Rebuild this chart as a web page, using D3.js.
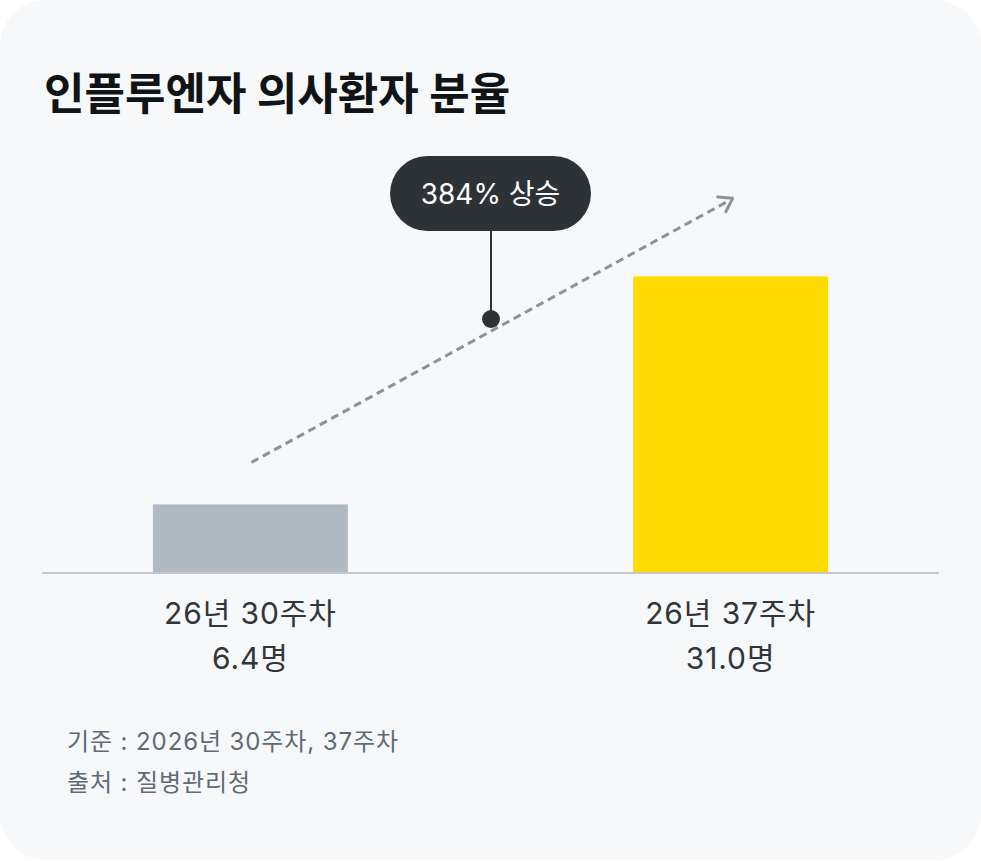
<!DOCTYPE html>
<html>
<head>
<meta charset="utf-8">
<script src="https://cdn.jsdelivr.net/npm/d3@7"></script>
<style>
  html, body { margin: 0; padding: 0; background: #ffffff; }
  svg { display: block; }
  text { font-family: Inter, "Noto Sans CJK KR", "Noto Sans", sans-serif; }
</style>
</head>
<body>
<svg id="chart" width="981" height="861"></svg>
<script>
// data
var titleText = "인플루엔자 의사환자 분율";
var categories = ["26년 30주차", "26년 37주차"];
var values = [6.4, 31.0];
var valueLabels = ["6.4명", "31.0명"];
var barColors = ["#b1bac2", "#ffdb00"];
var calloutText = "384% 상승";
var footNotes = ["기준 : 2026년 30주차, 37주차", "출처 : 질병관리청"];

var W = 981, H = 861;
var baseY = 573;

var svg = d3.select("#chart");

// card background
svg.append("rect")
    .attr("x", 0).attr("y", 0)
    .attr("width", W).attr("height", H - 1)
    .attr("rx", 46).attr("ry", 46)
    .attr("fill", "#f7f8fa");

// title
svg.append("text")
    .attr("x", 44)
    .attr("y", 110)
    .attr("font-size", "44px")
    .attr("font-weight", 700)
    .attr("fill", "#111417")
    .text(titleText);

// scales
var x = d3.scaleBand()
    .domain(categories)
    .range([42, 939])
    .paddingInner(0.594)
    .paddingOuter(0.231);

var y = d3.scaleLinear()
    .domain([-1, 35])
    .range([baseY, baseY - 36 * 9.27]);

// bars
svg.selectAll("rect.bar")
    .data(values)
    .enter()
    .append("rect")
    .attr("class", "bar")
    .attr("x", function(d, i){ return x(categories[i]); })
    .attr("y", function(d){ return y(d); })
    .attr("width", x.bandwidth())
    .attr("height", function(d){ return baseY - y(d); })
    .attr("fill", function(d, i){ return barColors[i]; });

// baseline
svg.append("line")
    .attr("x1", 42).attr("x2", 939)
    .attr("y1", baseY).attr("y2", baseY)
    .attr("stroke", "#c5cad0")
    .attr("stroke-width", 2);

// category labels
var labels = svg.selectAll("g.lbl")
    .data(categories)
    .enter()
    .append("g")
    .attr("class", "lbl");

labels.append("text")
    .attr("x", function(d){ return x(d) + x.bandwidth() / 2; })
    .attr("y", 624)
    .attr("text-anchor", "middle")
    .attr("font-size", "30px")
    .attr("letter-spacing", "0.9px")
    .attr("fill", "#31363b")
    .text(function(d){ return d; });

labels.append("text")
    .attr("x", function(d){ return x(d) + x.bandwidth() / 2; })
    .attr("y", 669)
    .attr("text-anchor", "middle")
    .attr("font-size", "30px")
    .attr("letter-spacing", "0.9px")
    .attr("fill", "#31363b")
    .text(function(d, i){ return valueLabels[i]; });

// dashed trend arrow
var cx0 = x(categories[0]) + x.bandwidth() / 2;
var cx1 = x(categories[1]) + x.bandwidth() / 2;
var p0 = [cx0 + 1, y(values[0]) - 42];
var p1 = [cx1 + 2, y(values[1]) - 78];

svg.append("line")
    .attr("x1", p0[0]).attr("y1", p0[1])
    .attr("x2", p1[0] - 3).attr("y2", p1[1] + 2)
    .attr("stroke", "#8b939b")
    .attr("stroke-width", 3)
    .attr("stroke-dasharray", "8,5");

var ang = Math.atan2(p1[1] - p0[1], p1[0] - p0[0]);
var headLen = 15;
var head = [
    [p1[0] - headLen * Math.cos(ang - 0.6), p1[1] - headLen * Math.sin(ang - 0.6)],
    p1,
    [p1[0] - headLen * Math.cos(ang + 0.6), p1[1] - headLen * Math.sin(ang + 0.6)]
];
svg.append("path")
    .attr("d", d3.line()(head))
    .attr("fill", "none")
    .attr("stroke", "#8b939b")
    .attr("stroke-width", 3)
    .attr("stroke-linecap", "round")
    .attr("stroke-linejoin", "round");

// callout
var pill = { cx: 490.5, cy: 193.5, w: 201, h: 75 };
var dot = { x: 491, y: 319 };

svg.append("line")
    .attr("x1", dot.x).attr("x2", dot.x)
    .attr("y1", pill.cy).attr("y2", dot.y)
    .attr("stroke", "#2d3236")
    .attr("stroke-width", 2);

svg.append("circle")
    .attr("cx", dot.x).attr("cy", dot.y)
    .attr("r", 9)
    .attr("fill", "#2d3236");

svg.append("rect")
    .attr("x", pill.cx - pill.w / 2)
    .attr("y", pill.cy - pill.h / 2)
    .attr("width", pill.w)
    .attr("height", pill.h)
    .attr("rx", pill.h / 2).attr("ry", pill.h / 2)
    .attr("fill", "#2d3236");

svg.append("text")
    .attr("x", pill.cx)
    .attr("y", 204)
    .attr("text-anchor", "middle")
    .attr("font-size", "28px")
    .attr("fill", "#ffffff")
    .text(calloutText);

// footnotes
svg.selectAll("text.foot")
    .data(footNotes)
    .enter()
    .append("text")
    .attr("class", "foot")
    .attr("x", 67)
    .attr("y", function(d, i){ return 750 + i * 41; })
    .attr("font-size", "24px")
    .attr("letter-spacing", "0.9px")
    .attr("fill", "#5f6a74")
    .text(function(d){ return d; });
</script>
</body>
</html>
